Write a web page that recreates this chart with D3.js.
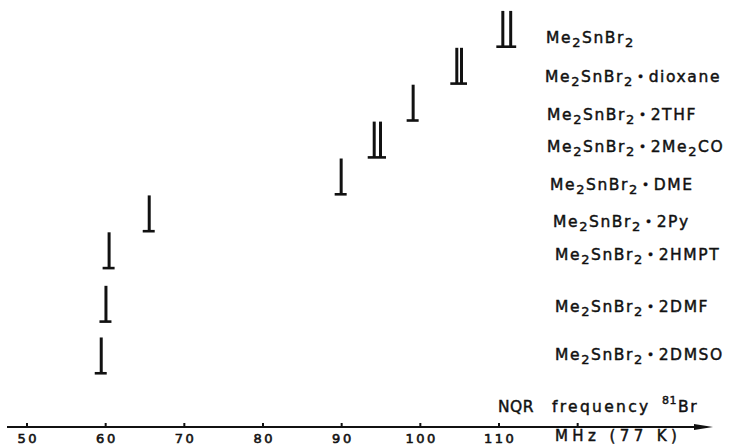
<!DOCTYPE html>
<html>
<head>
<meta charset="utf-8">
<script src="https://cdn.jsdelivr.net/npm/d3@7"></script>
<style>
  html, body { margin: 0; padding: 0; background: #fff; }
  svg { display: block; }
  text { font-family: "DejaVu Sans", sans-serif; fill: #111; stroke: #111; stroke-width: 0.45px; }
</style>
</head>
<body>
<svg id="chart" width="738" height="446"></svg>
<script>
// ---- data ----
const base = "Me2SnBr2";
const adducts = ["", "dioxane", "2THF", "2Me2CO", "DME", "2Py", "2HMPT", "2DMF", "2DMSO"];
const freqs = [
  [110.55, 111.55],
  [104.7, 105.3],
  [99.15],
  [94.2, 95.0],
  [90.0],
  [65.6],
  [60.5],
  [60.1],
  [59.5]
];
const tickValues = [50, 60, 70, 80, 90, 100, 110, 120];
const tickLabels = ["50", "60", "70", "80", "90", "100", "110", ""];
const axisTitle = ["NQR", "frequency", "81", "Br"];
const unitLabel = "MHz (77 K)";

// ---- layout (not data) ----
const rowRank = [0, 1, 2, 3, 4, 5, 6, 7.45, 8.85];
const labelRank = [-0.1, 0.96, 1.99, 2.85, 3.88, 4.89, 5.78, 7.19, 8.49];
const labelX = [546, 545, 547, 547, 550, 553, 555, 555, 555];

const svg = d3.select("#chart");
const x = d3.scaleLinear().domain([50, 110]).range([26.5, 498.5]);
const y = d3.scaleLinear().domain([0, 1]).range([46.7, 83.6]);
const axisY = 427;

// ---- markers ----
const rows = svg.append("g").selectAll("g").data(freqs).join("g");
rows.each(function (fs, i) {
  const g = d3.select(this);
  const foot = y(rowRank[i]);
  const top = y(rowRank[i] - 0.97);
  g.selectAll("line.bar").data(fs).join("line")
    .attr("class", "bar")
    .attr("x1", d => x(d)).attr("x2", d => x(d))
    .attr("y1", top).attr("y2", foot)
    .attr("stroke", "#111").attr("stroke-width", 3);
  g.append("line")
    .attr("x1", x(d3.min(fs)) - 6.5).attr("x2", x(d3.max(fs)) + 5.5)
    .attr("y1", foot).attr("y2", foot)
    .attr("stroke", "#111").attr("stroke-width", 2.6);
});

// ---- labels ----
// a digit directly after a letter is a subscript
function addFormula(textSel, str, startDy, firstDx) {
  let prevLetter = false;
  let pendingDy = startDy || 0;
  let buf = "";
  let first = true;
  const flush = (sub) => {
    if (!buf) return;
    const ts = textSel.append("tspan").text(buf);
    if (sub) ts.style("font-size", "13px");
    const dy = (sub ? 4 : 0) + pendingDy;
    if (dy) ts.attr("dy", dy);
    if (first && firstDx) ts.attr("dx", firstDx);
    first = false;
    pendingDy = sub ? -4 : 0;
    buf = "";
  };
  for (const ch of str) {
    const isDigit = /[0-9]/.test(ch);
    if (isDigit && prevLetter) {
      flush(false);
      buf = ch;
      flush(true);
    } else {
      buf += ch;
    }
    prevLetter = /[A-Za-z]/.test(ch);
  }
  flush(false);
  return pendingDy;
}
adducts.forEach((a, i) => {
  const t = svg.append("text")
    .attr("x", labelX[i]).attr("y", y(labelRank[i]))
    .style("font-size", "15.5px").style("letter-spacing", "1.6px");
  const back = addFormula(t, base, 0, 0);
  if (a) {
    t.append("tspan").style("font-size", "12px").attr("dx", 3).attr("dy", back - 1).text("\u2022");
    addFormula(t, a, 1, 3);
  }
});

// ---- axis ----
const axis = d3.axisBottom(x)
  .tickValues(tickValues)
  .tickFormat((d, i) => tickLabels[i])
  .tickSizeInner(-4).tickSizeOuter(0).tickPadding(7);
const ag = svg.append("g").attr("transform", `translate(0,${axisY})`).call(axis);
ag.select(".domain").remove();
ag.selectAll(".tick line").attr("stroke", "#111").attr("stroke-width", 2);
ag.selectAll(".tick text")
  .style("font-family", "DejaVu Sans, sans-serif")
  .style("font-size", "13px").style("letter-spacing", "2.5px")
  .style("stroke", "#111").style("stroke-width", "0.6px")
  .attr("dx", 1.2).attr("fill", "#111");

svg.append("line").attr("x1", 7).attr("x2", 698).attr("y1", axisY).attr("y2", axisY)
  .attr("stroke", "#111").attr("stroke-width", 2);
svg.append("path")
  .attr("d", `M${694},${axisY - 3} L${713},${axisY} L${694},${axisY + 3} Z`)
  .attr("fill", "#111");

const title = svg.append("text").attr("y", 412).style("font-size", "15.5px").style("letter-spacing", "0.5px");
title.append("tspan").attr("x", 498).text(axisTitle[0]);
title.append("tspan").attr("x", 552).style("letter-spacing", "2.3px").text(axisTitle[1]);
title.append("tspan").attr("x", 662).attr("dy", -8).style("font-size", "11px").text(axisTitle[2]);
title.append("tspan").attr("x", 678).attr("dy", 8).style("letter-spacing", "1.5px").text(axisTitle[3]);

svg.append("text").attr("x", 555).attr("y", 441)
  .style("font-size", "15px").style("letter-spacing", "4.4px").text(unitLabel);
</script>
</body>
</html>
